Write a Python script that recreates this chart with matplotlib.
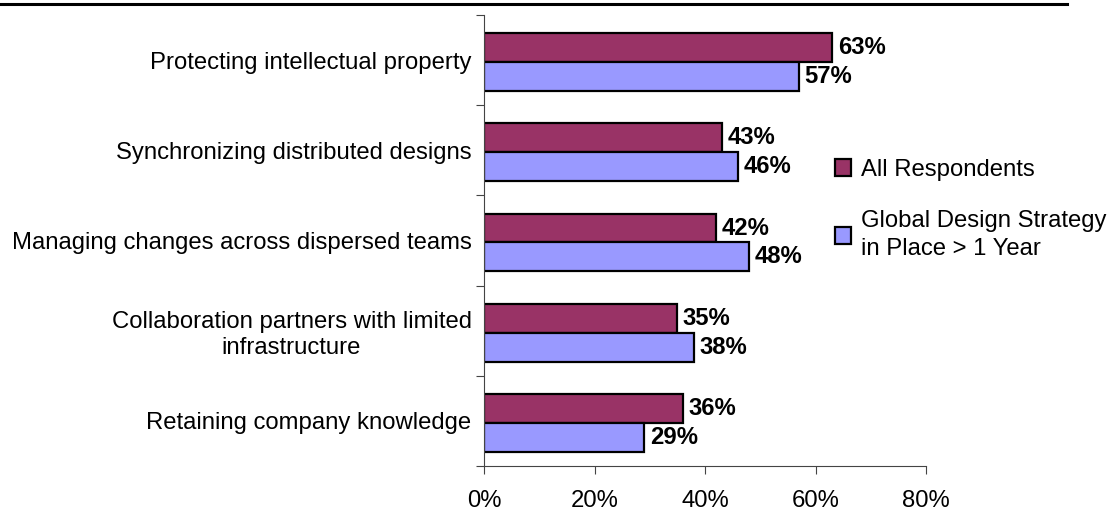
import matplotlib
matplotlib.use("Agg")
import matplotlib.pyplot as plt
from matplotlib.lines import Line2D
from matplotlib.ticker import FixedLocator, PercentFormatter
import numpy as np

plt.rcParams['font.family'] = ['Liberation Sans', 'DejaVu Sans']

categories = [
    "Protecting intellectual property",
    "Synchronizing distributed designs",
    "Managing changes across dispersed teams",
    "Collaboration partners with limited\ninfrastructure",
    "Retaining company knowledge",
]
all_respondents = [63, 43, 42, 35, 36]
global_strategy = [57, 46, 48, 38, 29]
series_names = ["All Respondents", "Global Design Strategy\nin Place > 1 Year"]
x_ticks = [0, 20, 40, 60, 80]

maroon = "#993366"
lavender = "#9999FF"
fs = 17.2

fig = plt.figure(figsize=(11.12, 5.12), dpi=100)
ax = fig.add_axes([484 / 1112, 1 - 466 / 512, (926 - 484) / 1112, (466 - 15) / 512])

n = len(categories)
y = np.arange(n)
h = 0.32
offset = 0.022
b1 = ax.barh(y - h / 2 + offset, all_respondents, height=h, color=maroon,
             edgecolor="black", linewidth=1.6, label=series_names[0])
b2 = ax.barh(y + h / 2 + offset, global_strategy, height=h, color=lavender,
             edgecolor="black", linewidth=1.6, label=series_names[1])

for bars, vals in ((b1, all_respondents), (b2, global_strategy)):
    for rect, v in zip(bars, vals):
        ax.annotate(f"{v}%", (v, rect.get_y() + rect.get_height() / 2),
                    xytext=(4, 0), textcoords="offset points",
                    va="center", ha="left", fontsize=fs, fontweight="bold")

ax.set_ylim(n - 0.5, -0.5)
ax.set_xlim(0, 80)
ax.xaxis.set_major_locator(FixedLocator(x_ticks))
ax.xaxis.set_major_formatter(PercentFormatter(decimals=0))
ax.set_yticks(y)
ax.set_yticklabels(categories, fontsize=fs, multialignment="center")
ax.yaxis.set_minor_locator(FixedLocator(np.arange(n + 1) - 0.5))
ax.tick_params(axis="y", which="major", length=0, pad=9)
ax.tick_params(axis="y", which="minor", length=6, width=0.8, color="#444444", direction="out")
ax.tick_params(axis="x", which="major", length=6, width=0.8, color="#444444",
               direction="out", labelsize=fs, pad=11.5)

for s in ("top", "right"):
    ax.spines[s].set_visible(False)
for s in ("left", "bottom"):
    ax.spines[s].set_color("#444444")
    ax.spines[s].set_linewidth(0.8)

leg = fig.legend(handles=[b1, b2], labels=series_names, loc="upper left",
                 bbox_to_anchor=(825 / 1112, 1 - 149 / 512), frameon=False,
                 fontsize=fs, handlelength=0.7, handleheight=0.7,
                 handletextpad=0.4, labelspacing=1.25, borderaxespad=0)
for t in leg.get_texts():
    t.set_linespacing(1.35)

fig.add_artist(Line2D([0, 1067 / 1112], [1 - 3.5 / 512, 1 - 3.5 / 512],
                      transform=fig.transFigure, color="black", linewidth=2.2))

fig.savefig("out.png", dpi=100, facecolor="white")
